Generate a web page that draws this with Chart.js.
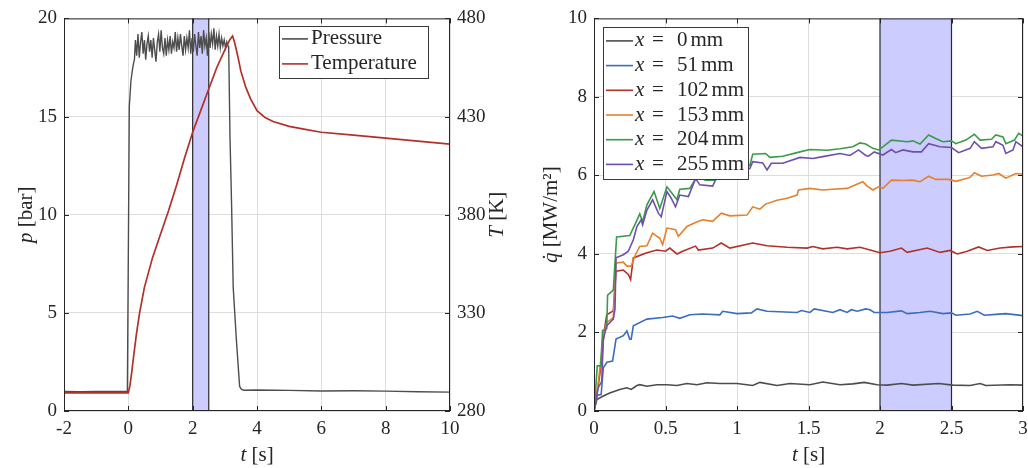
<!DOCTYPE html>
<html>
<head>
<meta charset="utf-8">
<title>Pressure, temperature and heat flux</title>
<script src="https://cdn.jsdelivr.net/npm/chart.js@4.4.0/dist/chart.umd.min.js"></script>
<style>
  body { margin: 0; background: #fff; }
  #wrap { position: relative; width: 1028px; height: 468px; }
  canvas { position: absolute; top: 0; }
</style>
</head>
<body>
<div id="wrap">
  <canvas id="leftChart" width="514" height="468" style="left:0"></canvas>
  <canvas id="rightChart" width="514" height="468" style="left:514px"></canvas>
</div>
<script>
// Highlighted averaging window (same in both panels)
const windowStart = 2.0;
const windowEnd = 2.5;

// Tick labels
const leftTimeTicks = [-2, 0, 2, 4, 6, 8, 10];
const pressureTicks = [0, 5, 10, 15, 20];
const temperatureTicks = [280, 330, 380, 430, 480];
const rightTimeTicks = [0, 0.5, 1, 1.5, 2, 2.5, 3];
const heatFluxTicks = [0, 2, 4, 6, 8, 10];

// Left panel: chamber pressure [bar]
const pressureTime = [-2, -1.5, -1, -0.5, -0.03, 0.0, 0.03, 0.08, 0.12, 0.16, 0.19,
  0.22, 0.26, 0.30, 0.34, 0.38, 0.42, 0.46, 0.50, 0.54, 0.58, 0.62, 0.66, 0.70, 0.74, 0.78,
  0.82, 0.86, 0.90, 0.94, 0.98, 1.02, 1.06, 1.10, 1.14, 1.18, 1.22, 1.26, 1.30, 1.34, 1.38,
  1.42, 1.46, 1.50, 1.54, 1.58, 1.62, 1.66, 1.70, 1.74, 1.78, 1.82, 1.86, 1.90, 1.94, 1.98,
  2.02, 2.06, 2.10, 2.14, 2.18, 2.22, 2.26, 2.30, 2.34, 2.38, 2.42, 2.46, 2.50, 2.54, 2.58,
  2.62, 2.66, 2.70, 2.74, 2.78, 2.82, 2.86, 2.90, 2.94, 2.98, 3.02, 3.06, 3.10, 3.12,
  3.16, 3.21, 3.26, 3.36, 3.46, 3.52, 3.6, 4, 5, 6, 7, 8, 9, 10];
const pressureBar = [1.0, 0.98, 1.0, 0.99, 1.0, 8.0, 15.5, 16.8, 17.3, 17.7, 17.9,
  18.9, 18.1, 19.2, 18.0, 18.8, 19.3, 18.2, 18.9, 17.9, 18.7, 19.1, 18.3, 18.9, 18.0, 19.0,
  18.4, 17.8, 18.8, 19.2, 18.3, 19.4, 18.5, 18.2, 19.0, 18.1, 18.9, 18.4, 19.1, 18.2, 18.8,
  18.5, 19.3, 18.3, 19.0, 18.4, 19.2, 18.6, 18.1, 19.1, 18.4, 19.0, 18.5, 19.4, 18.2, 19.0,
  18.3, 19.2, 18.6, 18.1, 19.3, 18.5, 19.1, 18.2, 19.4, 18.6, 19.0, 18.1, 19.3, 18.5, 19.2,
  18.7, 19.5, 18.4, 19.1, 18.6, 19.2, 18.5, 19.0, 18.6, 18.9, 18.5, 18.8, 18.6, 18.5,
  14.0, 10.5, 6.3, 3.6, 1.25, 1.1, 1.06, 1.07, 1.05, 1.02, 1.03, 1.01, 0.98, 0.96];

// Left panel: gas temperature [K]
const temperatureTime = [-2, 0, 0.05, 0.1, 0.15, 0.25, 0.35, 0.5, 0.75, 1.0, 1.25, 1.5, 1.75,
  2.0, 2.25, 2.5, 2.75, 3.0, 3.15, 3.24, 3.3, 3.4, 3.5, 3.65, 3.8, 4.0, 4.25, 4.5, 5, 5.5,
  6, 7, 8, 9, 10];
const temperatureK = [289.2, 289.2, 293, 299, 306, 319, 330, 343, 358, 370, 382, 395, 409,
  422, 433, 444, 455, 464, 469, 471, 468, 461, 453, 445, 439, 433, 429.5, 427.5, 425, 423.5,
  422, 420.5, 419, 417.5, 416];

// Right panel: heat flux [MW/m^2] at each probe, [t, q] pairs
const probeLabels = ['0', '51', '102', '153', '204', '255'];
const q0mm = [[0,0],[0.02,0.29],[0.065,0.38],[0.11,0.46],[0.18,0.55],[0.23,0.59],[0.26,0.55],
  [0.3,0.65],[0.32,0.67],[0.37,0.63],[0.44,0.67],[0.51,0.67],[0.58,0.65],[0.65,0.7],[0.72,0.67],
  [0.79,0.72],[0.88,0.70],[1.0,0.70],[1.11,0.65],[1.16,0.73],[1.28,0.65],[1.37,0.70],[1.51,0.67],
  [1.60,0.74],[1.72,0.67],[1.81,0.69],[1.89,0.73],[1.98,0.67],[2.05,0.66],[2.15,0.70],[2.23,0.66],
  [2.41,0.70],[2.51,0.66],[2.63,0.65],[2.70,0.70],[2.74,0.65],[2.91,0.67],[3.0,0.66]];
const q51mm = [[0,0],[0.023,0.4],[0.05,0.42],[0.065,1.1],[0.09,1.24],[0.13,1.27],[0.154,1.83],
  [0.205,1.92],[0.23,2.04],[0.25,1.83],[0.26,1.83],[0.275,2.17],[0.37,2.34],[0.48,2.38],[0.55,2.42],
  [0.6,2.36],[0.67,2.45],[0.76,2.47],[0.88,2.45],[0.9,2.54],[1.0,2.48],[1.1,2.5],[1.14,2.6],
  [1.21,2.54],[1.42,2.51],[1.45,2.56],[1.51,2.51],[1.54,2.6],[1.67,2.51],[1.72,2.58],[1.77,2.51],
  [1.8,2.58],[1.84,2.54],[1.9,2.6],[1.93,2.58],[1.96,2.51],[2.05,2.51],[2.15,2.55],[2.19,2.48],
  [2.28,2.51],[2.35,2.54],[2.44,2.48],[2.5,2.5],[2.53,2.44],[2.63,2.47],[2.68,2.54],[2.73,2.44],
  [2.81,2.46],[2.88,2.48],[3.0,2.43]];
const q102mm = [[0,0],[0.03,0.65],[0.054,1.3],[0.07,2.0],[0.089,2.45],[0.135,2.55],[0.154,3.56],
  [0.205,3.59],[0.24,3.48],[0.256,3.35],[0.275,3.9],[0.37,4.03],[0.44,4.1],[0.5,4.07],[0.53,4.15],
  [0.58,4.0],[0.62,4.07],[0.71,4.2],[0.73,4.1],[0.83,4.15],[0.89,4.28],[0.95,4.15],[1.11,4.28],
  [1.21,4.21],[1.35,4.17],[1.49,4.15],[1.53,4.19],[1.6,4.13],[1.7,4.17],[1.77,4.13],[1.86,4.17],
  [1.95,4.08],[2.0,4.03],[2.07,4.07],[2.15,4.15],[2.19,4.04],[2.33,4.15],[2.42,4.04],[2.49,4.09],
  [2.54,4.0],[2.61,4.07],[2.69,4.18],[2.75,4.09],[2.84,4.15],[2.93,4.18],[3.0,4.19]];
const q153mm = [[0,0],[0.03,0.73],[0.054,1.5],[0.07,2.0],[0.089,2.25],[0.135,2.38],[0.154,3.77],
  [0.205,3.79],[0.23,3.69],[0.26,3.69],[0.29,3.98],[0.32,4.19],[0.37,4.21],[0.41,4.53],[0.46,4.4],
  [0.48,4.24],[0.51,4.66],[0.57,4.62],[0.59,4.45],[0.65,4.7],[0.71,4.8],[0.76,4.87],[0.83,4.83],
  [0.89,5.04],[0.95,4.97],[1.07,4.99],[1.11,5.2],[1.16,5.14],[1.2,5.27],[1.28,5.37],[1.35,5.42],
  [1.42,5.5],[1.43,5.63],[1.51,5.67],[1.6,5.63],[1.67,5.65],[1.77,5.67],[1.81,5.73],[1.88,5.84],
  [1.91,5.73],[1.95,5.63],[1.99,5.71],[2.02,5.67],[2.08,5.88],[2.16,5.87],[2.23,5.88],[2.28,5.84],
  [2.34,5.98],[2.39,5.9],[2.48,5.9],[2.53,5.85],[2.63,5.95],[2.66,6.07],[2.71,5.98],[2.79,6.01],
  [2.83,6.05],[2.88,5.93],[2.95,6.05],[3.0,6.03]];
const q204mm = [[0,0],[0.023,1.15],[0.047,1.15],[0.06,2.05],[0.089,2.1],[0.095,2.95],[0.135,3.08],
  [0.158,4.43],[0.25,4.47],[0.29,4.78],[0.32,5.02],[0.34,4.82],[0.37,5.25],[0.42,5.59],[0.46,5.16],
  [0.51,5.71],[0.54,5.57],[0.58,5.38],[0.6,5.65],[0.67,5.67],[0.72,5.97],[0.78,5.88],[0.85,5.88],
  [0.9,6.1],[1.0,6.2],[1.09,6.26],[1.11,6.54],[1.2,6.56],[1.23,6.46],[1.32,6.49],[1.44,6.6],
  [1.51,6.66],[1.63,6.64],[1.72,6.68],[1.81,6.73],[1.86,6.83],[1.9,6.8],[1.95,6.69],[1.99,6.65],
  [2.02,6.73],[2.08,6.9],[2.19,6.86],[2.23,6.88],[2.28,6.8],[2.34,7.03],[2.39,6.94],[2.44,6.86],
  [2.5,6.88],[2.53,6.81],[2.6,6.9],[2.66,7.05],[2.7,6.9],[2.78,6.92],[2.81,7.03],[2.86,6.98],
  [2.88,6.81],[2.94,6.9],[2.97,7.07],[3.0,7.0]];
const q255mm = [[0,0],[0.03,0.6],[0.054,0.75],[0.065,1.83],[0.089,2.17],[0.135,2.34],[0.147,2.6],
  [0.154,3.9],[0.205,3.98],[0.24,4.07],[0.275,4.36],[0.3,4.7],[0.33,4.87],[0.34,4.74],[0.37,5.12],
  [0.41,5.38],[0.45,5.04],[0.47,4.95],[0.51,5.59],[0.54,5.42],[0.57,5.2],[0.6,5.5],[0.66,5.46],
  [0.71,5.92],[0.74,5.76],[0.83,5.73],[0.86,5.97],[0.95,6.05],[1.05,6.1],[1.09,6.18],[1.11,6.35],
  [1.18,6.32],[1.21,6.14],[1.24,6.31],[1.32,6.31],[1.44,6.46],[1.53,6.43],[1.6,6.48],[1.72,6.56],
  [1.79,6.51],[1.85,6.65],[1.9,6.51],[1.92,6.49],[1.96,6.6],[2.02,6.52],[2.08,6.66],[2.11,6.58],
  [2.16,6.65],[2.23,6.6],[2.29,6.6],[2.34,6.81],[2.42,6.73],[2.5,6.71],[2.55,6.58],[2.63,6.69],
  [2.66,6.86],[2.71,6.69],[2.79,6.73],[2.81,6.86],[2.86,6.77],[2.88,6.56],[2.93,6.65],[2.95,6.86],
  [3.0,6.73]];
const heatFlux = [q0mm, q51mm, q102mm, q153mm, q204mm, q255mm];

// Styling
const probeColors = ['#4d4d4d', '#3a6dbf', '#b3302a', '#e6802e', '#3b9a4a', '#6e4fae'];
const SERIF = '"Liberation Serif", "DejaVu Serif", serif';
const textColor = '#262626';
const gridColor = '#dedede';
const tickFont = { family: SERIF, size: 19 };

function fixedTicks(values) {
    return function(axis) {
        axis.ticks = values.map(v => ({ value: v }));
    };
}

// draws text made of roman / italic pieces, centred on (x, y)
function drawRich(ctx, parts, x, y, rotate) {
    ctx.save();
    ctx.translate(x, y);
    if (rotate) ctx.rotate(-Math.PI / 2);
    let total = 0;
    parts.forEach(p => {
        ctx.font = p.font;
        p.w = ctx.measureText(p.text).width;
        total += p.w;
    });
    let cx = -total / 2;
    ctx.textBaseline = 'middle';
    ctx.textAlign = 'left';
    ctx.fillStyle = textColor;
    parts.forEach(p => {
        ctx.font = p.font;
        ctx.fillText(p.text, cx, 0);
        cx += p.w;
    });
    ctx.restore();
}

const roman = size => size + 'px ' + SERIF;
const italic = size => 'italic ' + size + 'px ' + SERIF;

// shaded window, axes box with inward ticks, axis titles and legend
const framePlugin = {
    id: 'frame',
    beforeDatasetsDraw(chart) {
        const { ctx, chartArea: a, scales } = chart;
        const x0 = scales.x.getPixelForValue(windowStart);
        const x1 = scales.x.getPixelForValue(windowEnd);
        ctx.save();
        ctx.fillStyle = '#ccccff';
        ctx.fillRect(x0, a.top, x1 - x0, a.bottom - a.top);
        ctx.strokeStyle = '#2b2b2b';
        ctx.lineWidth = 1.2;
        ctx.beginPath();
        ctx.moveTo(x0, a.top); ctx.lineTo(x0, a.bottom);
        ctx.moveTo(x1, a.top); ctx.lineTo(x1, a.bottom);
        ctx.stroke();
        ctx.restore();
    },
    afterDatasetsDraw(chart, args, opts) {
        const { ctx, chartArea: a, scales } = chart;
        ctx.save();
        ctx.strokeStyle = textColor;
        ctx.lineWidth = 1;
        ctx.strokeRect(a.left + 0.5, a.top + 0.5, a.right - a.left - 1, a.bottom - a.top - 1);

        const tl = 5;
        ctx.beginPath();
        scales.x.ticks.forEach(t => {
            const px = Math.round(scales.x.getPixelForValue(t.value)) + 0.5;
            ctx.moveTo(px, a.bottom); ctx.lineTo(px, a.bottom - tl);
            ctx.moveTo(px, a.top); ctx.lineTo(px, a.top + tl);
        });
        scales.y.ticks.forEach(t => {
            const py = Math.round(scales.y.getPixelForValue(t.value)) + 0.5;
            ctx.moveTo(a.left, py); ctx.lineTo(a.left + tl, py);
            if (!scales.y2) { ctx.moveTo(a.right, py); ctx.lineTo(a.right - tl, py); }
        });
        if (scales.y2) {
            scales.y2.ticks.forEach(t => {
                const py = Math.round(scales.y2.getPixelForValue(t.value)) + 0.5;
                ctx.moveTo(a.right, py); ctx.lineTo(a.right - tl, py);
            });
        }
        ctx.stroke();
        ctx.restore();

        // axis titles
        const cxm = (a.left + a.right) / 2, cym = (a.top + a.bottom) / 2;
        drawRich(ctx, [{ text: 't', font: italic(21) }, { text: ' [s]', font: roman(21) }], cxm, a.bottom + 44, false);
        opts.yTitles.forEach(tt => drawRich(ctx, tt.parts, tt.side === 'left' ? a.left - tt.gap : a.right + tt.gap, cym, true));

        // legend box
        const lg = opts.legend;
        const bx = lg.alignRight ? a.right - lg.inset - lg.width : a.left + lg.inset;
        const by = a.top + lg.top;
        ctx.save();
        ctx.fillStyle = '#fff';
        ctx.fillRect(bx, by, lg.width, lg.height);
        ctx.strokeStyle = '#3a3a3a';
        ctx.lineWidth = 1;
        ctx.strokeRect(Math.round(bx) + 0.5, Math.round(by) + 0.5, lg.width, lg.height);
        chart.data.datasets.forEach((ds, i) => {
            const ry = by + lg.firstRow + i * lg.rowGap;
            ctx.strokeStyle = ds.borderColor;
            ctx.lineWidth = 1.6;
            ctx.beginPath();
            ctx.moveTo(bx + 3, ry); ctx.lineTo(bx + lg.sample, ry);
            ctx.stroke();
            ctx.fillStyle = textColor;
            ctx.textBaseline = 'middle';
            ctx.textAlign = 'left';
            if (ds.probe !== undefined) {
                ctx.font = italic(21);
                ctx.fillText('x', bx + lg.sample + 2, ry);
                ctx.font = roman(21);
                ctx.fillText('=', bx + lg.sample + 19, ry);
                const nx = bx + lg.sample + 44;
                ctx.fillText(ds.probe, nx, ry);
                const w = ctx.measureText(ds.probe).width;
                ctx.fillText('mm', nx + w + 3, ry);
            } else {
                ctx.font = roman(21);
                ctx.fillText(ds.label, bx + lg.sample + 3, ry);
            }
        });
        ctx.restore();
    }
};

function axisBase(ticks, extra) {
    return Object.assign({
        type: 'linear',
        afterBuildTicks: fixedTicks(ticks),
        grid: { color: gridColor, drawTicks: false, lineWidth: 1 },
        border: { display: false },
        ticks: { font: tickFont, color: textColor, autoSkip: false, maxRotation: 0, padding: 7,
                 callback: v => String(v) }
    }, extra);
}

// x axes: fixed height, no extra room reserved for the end labels
function fitXAxis(s) {
    s.height = 57;
    s.paddingLeft = 0;
    s.paddingRight = 0;
}

new Chart(document.getElementById('leftChart'), {
    type: 'line',
    data: {
        datasets: [
            {
                label: 'Pressure',
                data: pressureTime.map((t, i) => ({ x: t, y: pressureBar[i] })),
                borderColor: '#4d4d4d',
                borderWidth: 1.4,
                yAxisID: 'y',
                order: 2
            },
            {
                label: 'Temperature',
                data: temperatureTime.map((t, i) => ({ x: t, y: temperatureK[i] })),
                borderColor: '#b3302a',
                borderWidth: 1.7,
                yAxisID: 'y2',
                order: 1
            }
        ]
    },
    options: {
        responsive: false,
        animation: false,
        devicePixelRatio: 1,
        elements: { point: { radius: 0 }, line: { tension: 0 } },
        layout: { padding: { top: 18, left: 0, right: 0, bottom: 0 } },
        plugins: {
            legend: { display: false },
            tooltip: { enabled: false },
            frame: {
                yTitles: [
                    { side: 'left', gap: 38, parts: [{ text: 'p', font: italic(21) }, { text: ' [bar]', font: roman(21) }] },
                    { side: 'right', gap: 47, parts: [{ text: 'T', font: italic(21) }, { text: ' [K]', font: roman(21) }] }
                ],
                legend: { alignRight: true, inset: 22, top: 8, width: 149, height: 52, firstRow: 12.5, rowGap: 25, sample: 29 }
            }
        },
        scales: {
            x: axisBase(leftTimeTicks, { min: -2, max: 10, afterFit: fitXAxis }),
            y: axisBase(pressureTicks, { min: 0, max: 20, position: 'left', afterFit: s => { s.width = 64; } }),
            y2: axisBase(temperatureTicks, {
                min: 280, max: 480, position: 'right',
                grid: { drawOnChartArea: false, drawTicks: false },
                afterFit: s => { s.width = 64; }
            })
        }
    },
    plugins: [framePlugin]
});

new Chart(document.getElementById('rightChart'), {
    type: 'line',
    data: {
        datasets: heatFlux.map((series, i) => ({
            label: 'x = ' + probeLabels[i] + ' mm',
            probe: probeLabels[i],
            data: series.map(p => ({ x: p[0], y: p[1] })),
            borderColor: probeColors[i],
            borderWidth: 1.6,
            order: heatFlux.length - i
        }))
    },
    options: {
        responsive: false,
        animation: false,
        devicePixelRatio: 1,
        elements: { point: { radius: 0 }, line: { tension: 0 } },
        layout: { padding: { top: 18, left: 0, right: 5, bottom: 0 } },
        plugins: {
            legend: { display: false },
            tooltip: { enabled: false },
            frame: {
                yTitles: [
                    { side: 'left', gap: 43, parts: [{ text: 'q\u0307', font: italic(21) }, { text: ' [MW/m\u00b2]', font: roman(21) }] }
                ],
                legend: { alignRight: false, inset: 9, top: 9, width: 145, height: 152, firstRow: 13.5, rowGap: 24.7, sample: 30 }
            }
        },
        scales: {
            x: axisBase(rightTimeTicks, { min: 0, max: 3, afterFit: fitXAxis }),
            y: axisBase(heatFluxTicks, { min: 0, max: 10, position: 'left', afterFit: s => { s.width = 80; } })
        }
    },
    plugins: [framePlugin]
});
</script>
</body>
</html>
